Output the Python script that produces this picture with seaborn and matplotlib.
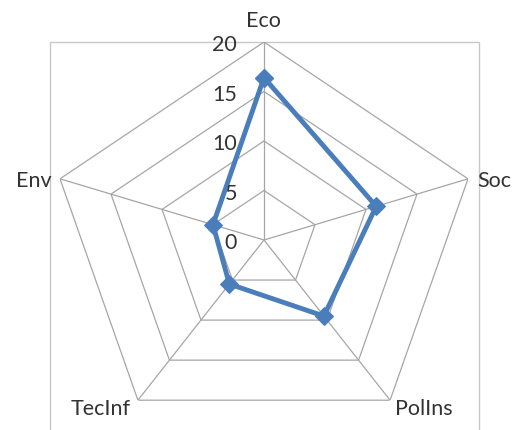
import numpy as np
import matplotlib
matplotlib.use('Agg')
import matplotlib.pyplot as plt
import matplotlib.patches as mpatches
from matplotlib.transforms import offset_copy
import seaborn as sns
import pandas as pd

# ---- data ----
categories = ['Eco', 'Soc', 'PolIns', 'TecInf', 'Env']
values = [16.4, 11.0, 9.5, 5.5, 5.0]
r_ticks = [0, 5, 10, 15, 20]
r_max = 20

sns.set_style('white')
plt.rcParams['font.family'] = ['Lato', 'DejaVu Sans']

W, H = 516, 431
fig = plt.figure(figsize=(W / 100, H / 100), dpi=100)
cx, cy = 264, 241      # centre in pixels (y down)
rx, ry = 214.5, 198    # pixel radii of r_max
ax = fig.add_axes([(cx - rx) / W, 1 - (cy + ry) / H, 2 * rx / W, 2 * ry / H],
                  projection='polar')
ax.set_aspect('auto')
ax.set_theta_offset(np.pi / 2)
ax.set_theta_direction(-1)
ax.grid(False)
ax.spines['polar'].set_visible(False)
ax.patch.set_visible(False)

n = len(categories)
angles = np.arange(n) * 2 * np.pi / n
ring_angles = np.append(angles, angles[0])
grid_col = '#a6a6a6'
for r in r_ticks[1:]:
    ax.plot(ring_angles, [r] * (n + 1), color=grid_col, lw=0.9, zorder=1)
for a in angles:
    ax.plot([a, a], [0, r_max], color=grid_col, lw=0.9, zorder=1)

df = pd.DataFrame({'theta': np.append(angles, 2 * np.pi),
                   'value': values + values[:1]})
sns.lineplot(data=df, x='theta', y='value', sort=False, estimator=None, ax=ax,
             color='#4a7ebb', lw=3.5, marker='D', markersize=9.5,
             markeredgecolor='#4a7ebb', zorder=3)
ax.set_ylim(0, r_max)
ax.set_xticks([])
ax.set_yticks([])
ax.set_xlabel('')
ax.set_ylabel('')

ax.add_patch(mpatches.Rectangle((0, 0), 1, 1, transform=ax.transAxes, fill=False,
                                ec='#c8c8c8', lw=1, clip_on=False, zorder=0))

txt_col = '#333333'
fs = 15.5
tick_tr = offset_copy(ax.transData, fig=fig, x=-27, y=-2, units='dots')
for t in r_ticks:
    ax.text(0, t, str(t), transform=tick_tr, ha='right', va='center',
            fontsize=fs, color=txt_col)

# category labels (pixel positions of baseline)
label_pos = {
    'Eco': (263, 27, 'center'),
    'Soc': (477, 187, 'left'),
    'PolIns': (395, 415, 'left'),
    'TecInf': (131, 415, 'right'),
    'Env': (52, 187, 'right'),
}
for c in categories:
    x, y, ha = label_pos[c]
    fig.text(x / W, 1 - y / H, c, ha=ha, va='baseline', fontsize=fs, color=txt_col)

fig.savefig('out.png', dpi=100)
